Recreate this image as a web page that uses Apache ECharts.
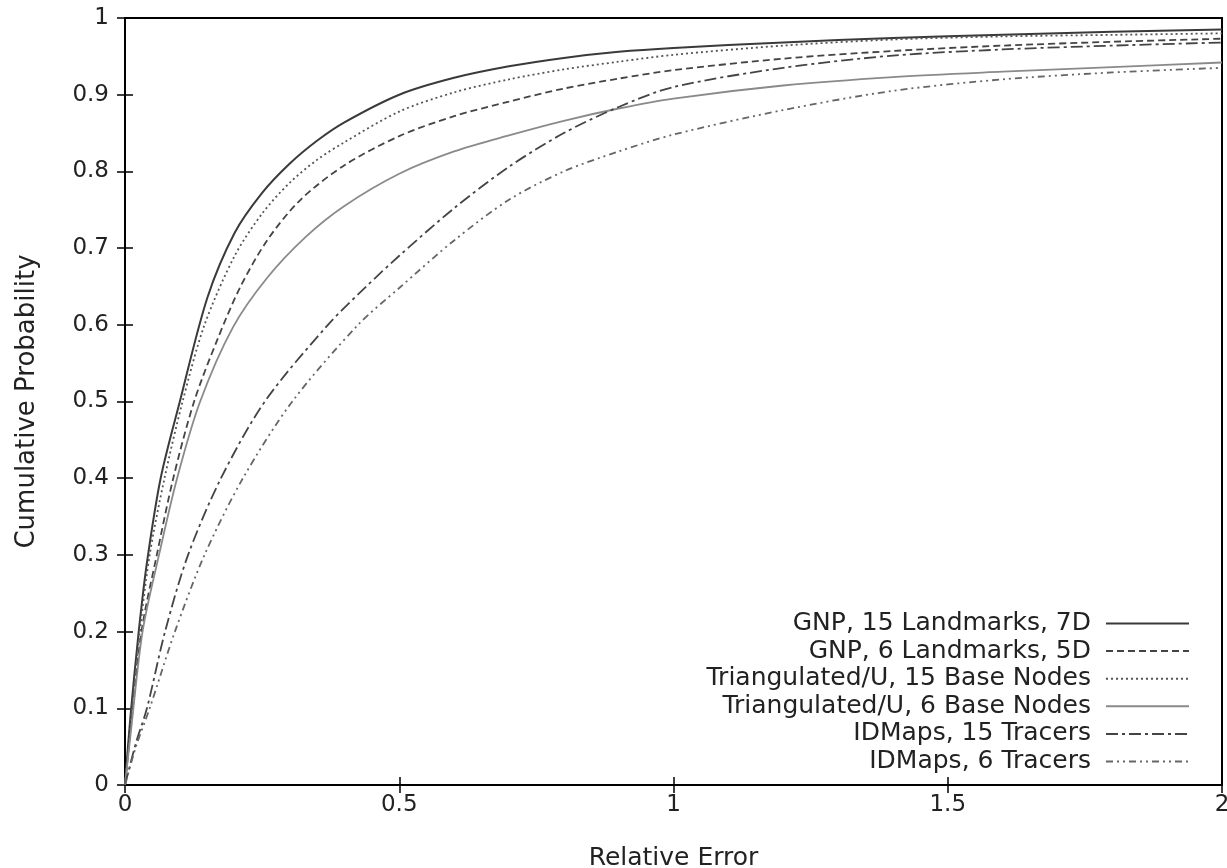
<!DOCTYPE html>
<html>
<head>
<meta charset="utf-8">
<script src="https://cdn.jsdelivr.net/npm/echarts@6/dist/echarts.min.js"></script>
<style>
html, body { margin: 0; padding: 0; background: #fff; }
#main { width: 1227px; height: 868px; }
</style>
</head>
<body>
<div id="main"></div>
<script>
// [relative error, cumulative probability]
var gnp15 = [[0,0],[0.01,0.09],[0.025,0.2],[0.04,0.29],[0.065,0.4],[0.1,0.5],[0.15,0.635],[0.2,0.72],[0.25,0.772],[0.3,0.81],[0.35,0.84],[0.4,0.864],[0.5,0.9],[0.6,0.922],[0.7,0.937],[0.8,0.948],[0.9,0.956],[1.0,0.961],[1.2,0.968],[1.4,0.974],[1.6,0.978],[1.8,0.982],[2.0,0.985]];
var gnp6 = [[0,0],[0.01,0.07],[0.03,0.2],[0.058,0.3],[0.088,0.4],[0.126,0.5],[0.168,0.58],[0.21,0.649],[0.26,0.711],[0.32,0.763],[0.4,0.808],[0.5,0.846],[0.6,0.872],[0.7,0.891],[0.8,0.908],[0.9,0.921],[1.0,0.932],[1.2,0.947],[1.4,0.957],[1.6,0.964],[1.8,0.969],[2.0,0.973]];
var tri15 = [[0,0],[0.01,0.08],[0.027,0.2],[0.045,0.3],[0.072,0.4],[0.105,0.5],[0.145,0.6],[0.2,0.69],[0.25,0.745],[0.3,0.785],[0.35,0.815],[0.4,0.838],[0.5,0.878],[0.6,0.903],[0.7,0.92],[0.8,0.933],[0.9,0.943],[1.0,0.952],[1.2,0.964],[1.4,0.972],[1.6,0.976],[1.8,0.978],[2.0,0.98]];
var tri6 = [[0,0],[0.01,0.065],[0.032,0.2],[0.062,0.3],[0.095,0.4],[0.137,0.5],[0.197,0.597],[0.26,0.662],[0.33,0.715],[0.4,0.755],[0.5,0.797],[0.6,0.826],[0.7,0.847],[0.8,0.866],[0.9,0.882],[1.0,0.895],[1.2,0.912],[1.4,0.923],[1.6,0.93],[1.8,0.936],[2.0,0.942]];
var idmaps15 = [[0,0],[0.02,0.055],[0.04,0.1],[0.073,0.2],[0.115,0.3],[0.175,0.4],[0.255,0.5],[0.37,0.6],[0.44,0.65],[0.5,0.69],[0.6,0.752],[0.7,0.806],[0.8,0.85],[0.9,0.884],[1.0,0.91],[1.2,0.935],[1.4,0.951],[1.6,0.959],[1.8,0.964],[2.0,0.968]];
var idmaps6 = [[0,0],[0.02,0.05],[0.045,0.1],[0.091,0.2],[0.145,0.3],[0.215,0.4],[0.305,0.5],[0.425,0.6],[0.5,0.648],[0.6,0.71],[0.7,0.763],[0.8,0.8],[0.9,0.826],[1.0,0.848],[1.2,0.88],[1.4,0.905],[1.6,0.92],[1.8,0.929],[2.0,0.935]];

var names = ['GNP, 15 Landmarks, 7D', 'GNP, 6 Landmarks, 5D', 'Triangulated/U, 15 Base Nodes',
             'Triangulated/U, 6 Base Nodes', 'IDMaps, 15 Tracers', 'IDMaps, 6 Tracers'];

var font = 'DejaVu Sans';

var dom = document.getElementById('main');
var myChart = echarts.init(dom, null, { renderer: 'canvas' });

function mkLine(name, data, color, width, dash) {
    return {
        name: name,
        type: 'line',
        data: data,
        smooth: 0.3,
        symbol: 'none',
        xAxisIndex: 0,
        yAxisIndex: 0,
        lineStyle: { color: color, width: width, type: dash },
        itemStyle: { color: color },
        emphasis: { disabled: true },
        z: 3
    };
}

var tickStyle = { show: true, inside: true, length: 8, lineStyle: { color: '#000', width: 1.5 } };

var option = {
    animation: false,
    backgroundColor: '#fff',
    grid: {
        left: 125, right: 5, top: 18, bottom: 83,
        outerBoundsMode: 'none',
        containLabel: false,
        show: true, borderColor: '#000', borderWidth: 2
    },
    legend: {
        orient: 'vertical',
        right: 32,
        top: 605,
        align: 'right',
        itemWidth: 83,
        itemHeight: 14,
        itemGap: 0.6,
        itemStyle: { opacity: 0 },
        textStyle: { fontFamily: font, fontSize: 25, color: '#222', lineHeight: 27, padding: [0, 10, 0, 0] },
        data: names
    },
    xAxis: [{
        type: 'value', min: 0, max: 2, interval: 0.5,
        name: 'Relative Error', nameLocation: 'middle', nameGap: 61,
        nameTextStyle: { fontFamily: font, fontSize: 25, color: '#222' },
        axisLine: { show: true, lineStyle: { color: '#000', width: 2 } },
        axisTick: tickStyle,
        axisLabel: { fontFamily: font, fontSize: 23, color: '#222', margin: 9 },
        splitLine: { show: false }
    }, {
        type: 'value', min: 0, max: 2, interval: 0.5, position: 'top',
        axisLine: { show: true, lineStyle: { color: '#000', width: 2 } },
        axisTick: tickStyle,
        axisLabel: { show: false },
        splitLine: { show: false }
    }],
    yAxis: [{
        type: 'value', min: 0, max: 1, interval: 0.1,
        name: 'Cumulative Probability', nameLocation: 'middle', nameGap: 85,
        nameTextStyle: { fontFamily: font, fontSize: 26, color: '#222' },
        axisLine: { show: true, lineStyle: { color: '#000', width: 2 } },
        axisTick: tickStyle,
        axisLabel: { fontFamily: font, fontSize: 23, color: '#222', margin: 16 },
        splitLine: { show: false }
    }, {
        type: 'value', min: 0, max: 1, interval: 0.1, position: 'right',
        axisLine: { show: true, lineStyle: { color: '#000', width: 2 } },
        axisTick: tickStyle,
        axisLabel: { show: false },
        splitLine: { show: false }
    }],
    series: [
        mkLine(names[0], gnp15, '#3a3a3a', 2, 'solid'),
        mkLine(names[1], gnp6, '#444', 1.8, [7, 4]),
        mkLine(names[2], tri15, '#555', 1.8, [2, 3]),
        mkLine(names[3], tri6, '#8a8a8a', 1.8, 'solid'),
        mkLine(names[4], idmaps15, '#444', 1.8, [12, 4, 3, 4]),
        mkLine(names[5], idmaps6, '#666', 1.8, [7, 4, 2, 4, 2, 4])
    ]
};

if (option && typeof option === 'object') {
    myChart.setOption(option, true);
}
window.addEventListener('resize', function () {
    myChart.resize();
});
</script>
</body>
</html>
